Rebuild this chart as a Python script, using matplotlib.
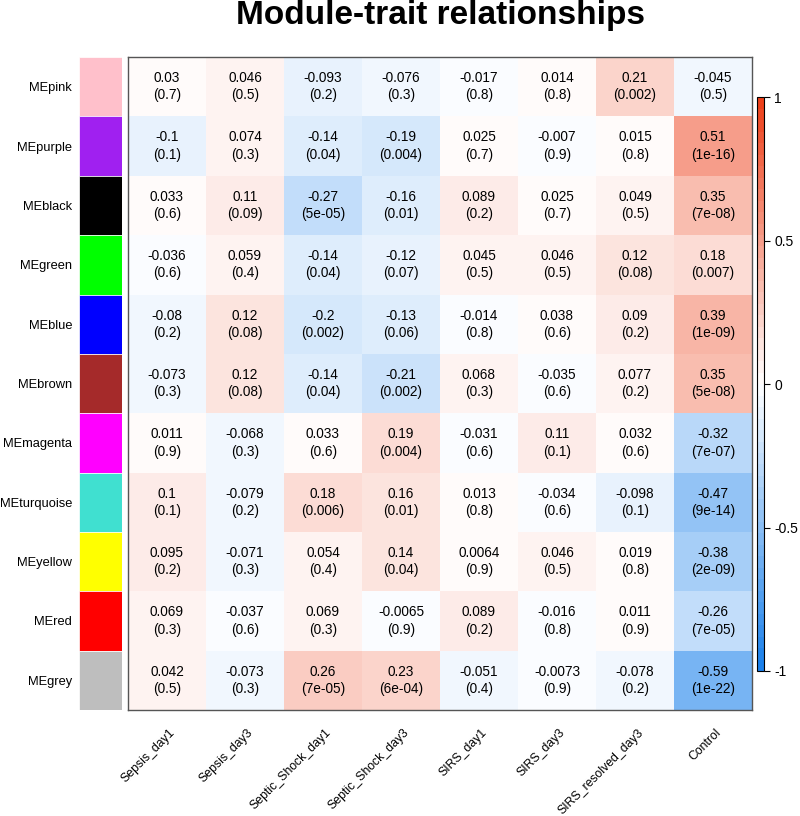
import numpy as np
import matplotlib
matplotlib.use('Agg')
from matplotlib import pyplot as plt
from matplotlib.colors import LinearSegmentedColormap

plt.rcParams['font.family'] = ['Liberation Sans', 'DejaVu Sans']

modules = ['MEpink', 'MEpurple', 'MEblack', 'MEgreen', 'MEblue', 'MEbrown',
           'MEmagenta', 'MEturquoise', 'MEyellow', 'MEred', 'MEgrey']
module_colors = ['#FFC0CB', '#A020F0', '#000000', '#00FF00', '#0000FF', '#A52A2A',
                 '#FF00FF', '#40E0D0', '#FFFF00', '#FF0000', '#BEBEBE']
traits = ['Sepsis_day1', 'Sepsis_day3', 'Septic_Shock_day1', 'Septic_Shock_day3',
          'SIRS_day1', 'SIRS_day3', 'SIRS_resolved_day3', 'Control']

cor = [
    [0.03, 0.046, -0.093, -0.076, -0.017, 0.014, 0.21, -0.045],
    [-0.1, 0.074, -0.14, -0.19, 0.025, -0.007, 0.015, 0.51],
    [0.033, 0.11, -0.27, -0.16, 0.089, 0.025, 0.049, 0.35],
    [-0.036, 0.059, -0.14, -0.12, 0.045, 0.046, 0.12, 0.18],
    [-0.08, 0.12, -0.2, -0.13, -0.014, 0.038, 0.09, 0.39],
    [-0.073, 0.12, -0.14, -0.21, 0.068, -0.035, 0.077, 0.35],
    [0.011, -0.068, 0.033, 0.19, -0.031, 0.11, 0.032, -0.32],
    [0.1, -0.079, 0.18, 0.16, 0.013, -0.034, -0.098, -0.47],
    [0.095, -0.071, 0.054, 0.14, 0.0064, 0.046, 0.019, -0.38],
    [0.069, -0.037, 0.069, -0.0065, 0.089, -0.016, 0.011, -0.26],
    [0.042, -0.073, 0.26, 0.23, -0.051, -0.0073, -0.078, -0.59],
]
pvals = [
    ['0.7', '0.5', '0.2', '0.3', '0.8', '0.8', '0.002', '0.5'],
    ['0.1', '0.3', '0.04', '0.004', '0.7', '0.9', '0.8', '1e-16'],
    ['0.6', '0.09', '5e-05', '0.01', '0.2', '0.7', '0.5', '7e-08'],
    ['0.6', '0.4', '0.04', '0.07', '0.5', '0.5', '0.08', '0.007'],
    ['0.2', '0.08', '0.002', '0.06', '0.8', '0.6', '0.2', '1e-09'],
    ['0.3', '0.08', '0.04', '0.002', '0.3', '0.6', '0.2', '5e-08'],
    ['0.9', '0.3', '0.6', '0.004', '0.6', '0.1', '0.6', '7e-07'],
    ['0.1', '0.2', '0.006', '0.01', '0.8', '0.6', '0.1', '9e-14'],
    ['0.2', '0.3', '0.4', '0.04', '0.9', '0.5', '0.8', '2e-09'],
    ['0.3', '0.6', '0.3', '0.9', '0.2', '0.8', '0.9', '7e-05'],
    ['0.5', '0.3', '7e-05', '6e-04', '0.4', '0.9', '0.2', '1e-22'],
]

cmap = LinearSegmentedColormap.from_list(
    'bwr_wgcna', [(0.1, 0.5, 0.92), (1, 1, 1), (0.93, 0.25, 0.1)], N=50)

fig = plt.figure(figsize=(8, 8.16), dpi=100)

# main heatmap
ax = fig.add_axes([0.16, 0.13, 0.78, 0.80])
data = np.array(cor)
nr, nc = data.shape
mesh = ax.pcolormesh(np.arange(nc + 1), np.arange(nr + 1), data,
                     cmap=cmap, vmin=-1, vmax=1)
ax.set_xlim(0, nc)
ax.set_ylim(nr, 0)
for i in range(nr):
    for j in range(nc):
        ax.text(j + 0.5, i + 0.5, '{}\n({})'.format(cor[i][j], pvals[i][j]),
                ha='center', va='center', fontsize=9.8, linespacing=1.3)
# rotated trait labels below the box
for j, t in enumerate(traits):
    ax.text(j + 0.58, nr + 0.35, t, rotation=45, ha='right', va='center',
            rotation_mode='anchor', fontsize=8.8, clip_on=False)
ax.set_xticks([])
ax.set_yticks([])
for s in ax.spines.values():
    s.set_color('#555555')
    s.set_linewidth(1)

# module colour strip
ax2 = fig.add_axes([0.09875, 0.13, 0.054, 0.80])
for i, c in enumerate(module_colors):
    ax2.add_patch(plt.Rectangle((0, i), 1, 1, facecolor=c, edgecolor='white', lw=0.5))
ax2.set_xlim(0, 1)
ax2.set_ylim(nr, 0)
ax2.set_xticks([])
ax2.set_yticks(np.arange(nr) + 0.5)
ax2.set_yticklabels(modules, fontsize=9.3)
ax2.tick_params(axis='y', length=0, pad=5)
for s in ax2.spines.values():
    s.set_visible(False)

# colour bar
cax = fig.add_axes([0.946, 0.1777, 0.009, 0.703])
cb = fig.colorbar(mesh, cax=cax, ticks=[-1, -0.5, 0, 0.5, 1])
cb.ax.set_yticklabels(['-1', '-0.5', '0', '0.5', '1'])
cb.ax.tick_params(labelsize=10, length=4)
cb.outline.set_linewidth(0.8)

fig.text(0.55, 0.981, 'Module-trait relationships', ha='center', va='center',
         fontsize=24, fontweight='bold')

plt.savefig('out.png', dpi=100)
